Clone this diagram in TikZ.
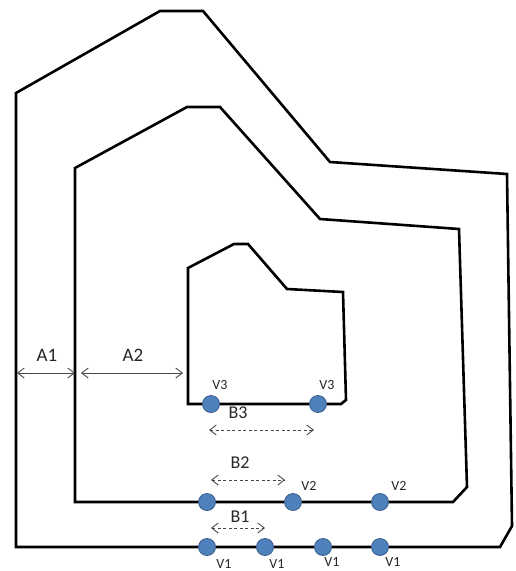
\documentclass[tikz,border=0pt]{standalone}
\usepackage{fontspec}
\setmainfont{Carlito}
\usetikzlibrary{arrows.meta}
\definecolor{dotfill}{HTML}{4F81BD}
\definecolor{dotedge}{HTML}{385D8A}
\definecolor{txt}{HTML}{262626}
\begin{document}
\begin{tikzpicture}[x=1pt,y=-1pt,
  wall/.style={line width=2.6pt, line join=miter},
  vdot/.style={circle, fill=dotfill, draw=dotedge, line width=0.8pt, minimum size=17pt, inner sep=0pt},
  vlab/.style={text=txt, font=\fontsize{14}{14}\selectfont, inner sep=0pt},
  alab/.style={text=txt, font=\fontsize{19}{19}\selectfont, inner sep=0pt},
  blab/.style={text=txt, font=\fontsize{18}{18}\selectfont, inner sep=0pt},
  dim/.style={draw=txt!85, line width=0.9pt, {Straight Barb[length=6.5pt,width=10pt]}-{Straight Barb[length=6.5pt,width=10pt]}},
  dimd/.style={dim, dashed, dash pattern=on 3pt off 2.5pt}]
\useasboundingbox (0,0) rectangle (515,571);
% outer wall
\draw[wall] (16,93) -- (160,11) -- (203,11) -- (330,162) -- (507,174) -- (512,526) -- (500,547) -- (16,547) -- cycle;
% middle wall
\draw[wall] (75,168) -- (187,107) -- (220,107) -- (320,219) -- (459,229) -- (467,487) -- (453,502) -- (75,502) -- cycle;
% inner wall
\draw[wall] (188,268) -- (234,244) -- (248,244) -- (287,289) -- (343,292) -- (346,400) -- (341,404) -- (188,404) -- cycle;
% A dimensions
\coordinate (a1l) at (17,373);
\coordinate (a1r) at (75,373);
\coordinate (a2l) at (81,373);
\coordinate (a2r) at (183,373);
\draw[dim] (a1l) -- (a1r);
\draw[dim] (a2l) -- (a2r);
\node[alab] (A1) at (47,355) {A1};
\node[alab] (A2) at (133,355) {A2};
% inner vertices
\node[vdot] (v3a) at (211,404) {};
\node[vdot] (v3b) at (318,404) {};
\node[vlab] (l3a) at (220,385) {V3};
\node[vlab] (l3b) at (327,385) {V3};
\node[blab] (B3) at (238,413) {B3};
\coordinate (b3l) at (209,430);
\coordinate (b3r) at (314,430);
\draw[dimd] (b3l) -- (b3r);
% middle vertices
\node[vdot] (v2a) at (207,502) {};
\node[vdot] (v2b) at (293,502) {};
\node[vdot] (v2c) at (380,502) {};
\node[vlab] (l2b) at (309,486) {V2};
\node[vlab] (l2c) at (399,486) {V2};
\node[blab] (B2) at (240,463) {B2};
\coordinate (b2l) at (211,480);
\coordinate (b2r) at (285,480);
\draw[dimd] (b2l) -- (b2r);
% outer vertices
\node[vdot] (v1a) at (207,547) {};
\node[vdot] (v1b) at (265,547) {};
\node[vdot] (v1c) at (323,547) {};
\node[vdot] (v1d) at (380,547) {};
\node[vlab] (l1a) at (224,563.5) {V1};
\node[vlab] (l1b) at (277,563.5) {V1};
\node[vlab] (l1c) at (332,562) {V1};
\node[vlab] (l1d) at (393,562) {V1};
\node[blab] (B1) at (240,517) {B1};
\coordinate (b1l) at (211,528);
\coordinate (b1r) at (265,528);
\draw[dimd] (b1l) -- (b1r);
\end{tikzpicture}
\end{document}
